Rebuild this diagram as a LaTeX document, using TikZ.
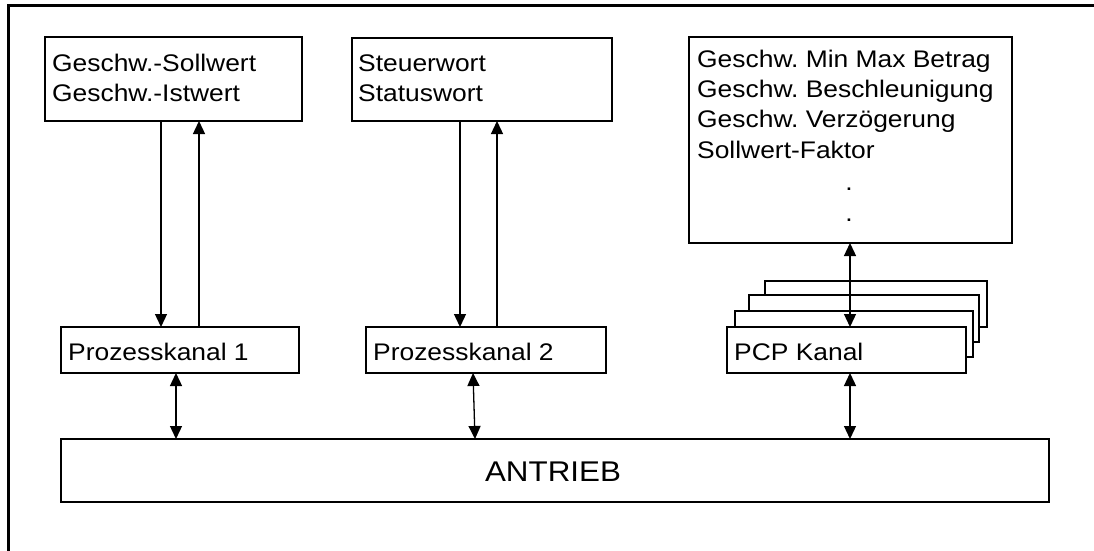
\documentclass[tikz,border=0pt]{standalone}
\usepackage{fontspec}
\setmainfont[FakeStretch=1.1]{Liberation Sans}
\usetikzlibrary{arrows.meta}
\tikzset{
  box/.style={draw, line width=1.3pt, fill=white, anchor=north west, inner sep=0pt, outer sep=0pt},
  txt/.style={anchor=base west, inner sep=0pt, font=\fontsize{24}{30}\selectfont},
  arr/.style={line width=1.3pt, -{Triangle[length=13pt,width=12pt]}},
  darr/.style={line width=1.3pt, {Triangle[length=13pt,width=12pt]}-{Triangle[length=13pt,width=12pt]}},
  frame/.style={line width=3.2pt}
}
\frenchspacing
\begin{document}
\begin{tikzpicture}[x=1pt,y=-1pt]
\useasboundingbox (0,0) rectangle (1094,551);
% outer frame (top and left only)
\coordinate (fa) at (8.3,551);
\coordinate (fb) at (8.3,5.8);
\coordinate (fc) at (1094,5.8);
\draw[frame] (fa) -- (fb) -- (fc);

% top boxes
\node[box, minimum width=257pt, minimum height=84pt] (boxA) at (45,37) {};
\node[txt] (tA1) at (52,71) {Geschw.-Sollwert};
\node[txt] (tA2) at (52,101) {Geschw.-Istwert};

\node[box, minimum width=260pt, minimum height=83pt] (boxB) at (352,38) {};
\node[txt] (tB1) at (358,71) {Steuerwort};
\node[txt] (tB2) at (358,101) {Statuswort};

\node[box, minimum width=323pt, minimum height=206pt] (boxC) at (689,37) {};
\node[txt] (tC1) at (697,67) {Geschw. Min Max Betrag};
\node[txt] (tC2) at (697,97) {Geschw. Beschleunigung};
\node[txt] (tC3) at (697,127) {Geschw. Verzögerung};
\node[txt] (tC4) at (697,158) {Sollwert-Faktor};
\node[txt, anchor=base] (tC5) at (849,190) {.};
\node[txt, anchor=base] (tC6) at (849,221) {.};

% channel boxes
\node[box, minimum width=238pt, minimum height=46pt] (pk1) at (61,327) {};
\node[txt] (tP1) at (68,360) {Prozesskanal 1};
\node[box, minimum width=240pt, minimum height=46pt] (pk2) at (366,327) {};
\node[txt] (tP2) at (373,360) {Prozesskanal 2};

\node[box, minimum width=222pt, minimum height=46pt] (pcp4) at (765,281) {};
\node[box, minimum width=230pt, minimum height=47pt] (pcp3) at (749,295) {};
\node[box, minimum width=238pt, minimum height=46pt] (pcp2) at (735,311) {};
\node[box, minimum width=239pt, minimum height=46pt] (pcp) at (727,327) {};
\node[txt] (tPCP) at (734,360) {PCP Kanal};

% drive
\node[box, minimum width=988pt, minimum height=63pt] (antrieb) at (61,439) {};
\node[anchor=base, inner sep=0pt, font=\fontsize{28.5}{34}\selectfont] (tAn) at (553,481) {ANTRIEB};

% connector x positions
\coordinate (x1) at (161,0);
\coordinate (x2) at (199,0);
\coordinate (x3) at (176,0);
\coordinate (x4) at (460,0);
\coordinate (x5) at (497,0);
\coordinate (x6a) at (473,0);
\coordinate (x6b) at (475,0);
\coordinate (x7) at (850,0);

\draw[arr] (x1 |- boxA.south) -- (x1 |- pk1.north);
\draw[arr] (x2 |- pk1.north) -- (x2 |- boxA.south);
\draw[darr] (x3 |- pk1.south) -- (x3 |- antrieb.north);

\draw[arr] (x4 |- boxB.south) -- (x4 |- pk2.north);
\draw[arr] (x5 |- pk2.north) -- (x5 |- boxB.south);
\draw[darr] (x6a |- pk2.south) -- (x6b |- antrieb.north);

\draw[darr] (x7 |- boxC.south) -- (x7 |- pcp.north);
\draw[darr] (x7 |- pcp.south) -- (x7 |- antrieb.north);
\end{tikzpicture}
\end{document}
